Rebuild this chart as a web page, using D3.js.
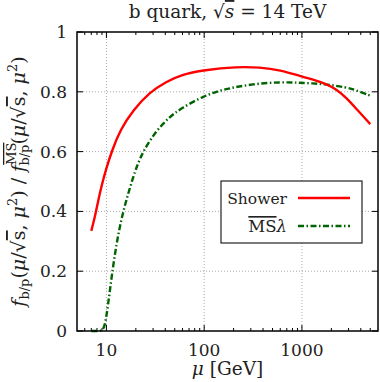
<!DOCTYPE html>
<html>
<head>
<meta charset="utf-8">
<script src="https://cdn.jsdelivr.net/npm/d3@7"></script>
<style>
  body { margin: 0; background: #fff; }
  svg text { font-family: "DejaVu Serif", serif; fill: #222; }
</style>
</head>
<body>
<div id="chart"></div>
<script>
// data
const showerMu = [7, 7.64, 8.26, 8.93, 10, 11.3, 13.8, 18.8, 27.9, 41.3, 56.5, 100, 215, 372, 596, 1000, 1400, 1718, 2200, 2860, 3600, 5000];
const showerVal = [0.335, 0.382, 0.438, 0.487, 0.545, 0.60, 0.672, 0.739, 0.80, 0.834, 0.856, 0.873, 0.884, 0.882, 0.873, 0.851, 0.838, 0.828, 0.811, 0.780, 0.743, 0.692];

const msbarMu = [7, 8, 9, 9.66, 10.45, 11.3, 12.7, 14.7, 18.8, 20.4, 23.8, 32.7, 44.7, 56.5, 100, 170, 316, 596, 1000, 1718, 2860, 3600, 5000];
const msbarVal = [-0.3, -0.12, -0.03, 0.015, 0.093, 0.182, 0.295, 0.399, 0.516, 0.549, 0.603, 0.672, 0.717, 0.742, 0.788, 0.811, 0.826, 0.833, 0.830, 0.826, 0.815, 0.805, 0.787];

const xMajor = [10, 100, 1000];
const xMinor = [6, 7, 8, 9, 20, 30, 40, 50, 60, 70, 80, 90, 200, 300, 400, 500, 600, 700, 800, 900, 2000, 3000, 4000, 5000];
const yTicks = [0, 0.2, 0.4, 0.6, 0.8, 1];

const width = 380;
const height = 382;
const margin = { top: 32, right: 2, bottom: 51, left: 77 };

const svg = d3.select('#chart')
  .append('svg')
  .attr('width', width)
  .attr('height', height);

const x = d3.scaleLog()
  .domain([5, 6000])
  .range([margin.left, width - margin.right]);

const y = d3.scaleLinear()
  .domain([0, 1])
  .range([height - margin.bottom, margin.top])
  .clamp(true);

const x0 = x.range()[0], x1 = x.range()[1];
const y0 = y.range()[0], y1 = y.range()[1];

// grid
const grid = svg.append('g')
  .attr('stroke', '#aaa')
  .attr('stroke-width', 1)
  .attr('stroke-dasharray', '1,2');

grid.selectAll('line.gx')
  .data(xMajor)
  .enter()
  .append('line')
  .attr('x1', d => x(d)).attr('x2', d => x(d))
  .attr('y1', y0).attr('y2', y1);

grid.selectAll('line.gy')
  .data(yTicks.filter(d => d > 0 && d < 1))
  .enter()
  .append('line')
  .attr('x1', x0).attr('x2', x1)
  .attr('y1', d => y(d)).attr('y2', d => y(d));

// ticks, inward on all sides
const ticks = svg.append('g').attr('stroke', '#000').attr('stroke-width', 1);

ticks.selectAll('line.xM')
  .data(xMajor.concat(xMajor))
  .enter()
  .append('line')
  .attr('x1', d => x(d)).attr('x2', d => x(d))
  .attr('y1', (d, i) => i < 3 ? y0 : y1)
  .attr('y2', (d, i) => i < 3 ? y0 - 6 : y1 + 6);

ticks.selectAll('line.xm')
  .data(xMinor.concat(xMinor))
  .enter()
  .append('line')
  .attr('x1', d => x(d)).attr('x2', d => x(d))
  .attr('y1', (d, i) => i < xMinor.length ? y0 : y1)
  .attr('y2', (d, i) => i < xMinor.length ? y0 - 3 : y1 + 3);

ticks.selectAll('line.y')
  .data(yTicks.concat(yTicks))
  .enter()
  .append('line')
  .attr('y1', d => y(d)).attr('y2', d => y(d))
  .attr('x1', (d, i) => i < yTicks.length ? x0 : x1)
  .attr('x2', (d, i) => i < yTicks.length ? x0 + 6 : x1 - 6);

// tick labels
svg.append('g')
  .selectAll('text')
  .data(xMajor)
  .enter()
  .append('text')
  .attr('x', d => x(d))
  .attr('y', 356)
  .attr('text-anchor', 'middle')
  .attr('font-size', 17)
  .text(d => d);

svg.append('g')
  .selectAll('text')
  .data(yTicks)
  .enter()
  .append('text')
  .attr('x', 67)
  .attr('y', d => y(d) + 6)
  .attr('text-anchor', 'end')
  .attr('font-size', 17)
  .text(d => d);

// curves
const line = d3.line()
  .x(d => x(d[0]))
  .y(d => y(d[1]))
  .curve(d3.curveBasis);

svg.append('path')
  .datum(msbarMu.map((m, i) => [m, msbarVal[i]]))
  .attr('fill', 'none')
  .attr('stroke', '#006400')
  .attr('stroke-width', 2.4)
  .attr('stroke-dasharray', '6,2.5,1.5,2.5')
  .attr('d', line);

svg.append('path')
  .datum(showerMu.map((m, i) => [m, showerVal[i]]))
  .attr('fill', 'none')
  .attr('stroke', '#ff0000')
  .attr('stroke-width', 2.4)
  .attr('d', line);

// frame
svg.append('rect')
  .attr('x', x0).attr('y', y1)
  .attr('width', x1 - x0).attr('height', y0 - y1)
  .attr('fill', 'none')
  .attr('stroke', '#000')
  .attr('stroke-width', 1.5);

// legend
const legend = svg.append('g');
legend.append('rect')
  .attr('x', 221).attr('y', 181)
  .attr('width', 141).attr('height', 62)
  .attr('fill', '#fff')
  .attr('stroke', '#222')
  .attr('stroke-width', 1.2);

legend.append('text')
  .attr('x', 287).attr('y', 204)
  .attr('text-anchor', 'end')
  .attr('font-size', 15.5)
  .text('Shower');
legend.append('line')
  .attr('x1', 298).attr('x2', 350)
  .attr('y1', 198).attr('y2', 198)
  .attr('stroke', '#ff0000').attr('stroke-width', 2.4);

const msText = legend.append('text')
  .attr('x', 287).attr('y', 232)
  .attr('text-anchor', 'end')
  .attr('font-size', 16.5);
msText.append('tspan').attr('text-decoration', 'overline').text('MS');
msText.append('tspan').attr('font-style', 'italic').text('λ');
legend.append('line')
  .attr('x1', 298).attr('x2', 350)
  .attr('y1', 226).attr('y2', 226)
  .attr('stroke', '#006400').attr('stroke-width', 2.4)
  .attr('stroke-dasharray', '6,2.5,1.5,2.5');

// title
const title = svg.append('text')
  .attr('x', (x0 + x1) / 2).attr('y', 18)
  .attr('text-anchor', 'middle')
  .attr('font-size', 18.5);
title.append('tspan').text('b quark, √');
title.append('tspan').attr('font-style', 'italic').attr('text-decoration', 'overline').text('s');
title.append('tspan').text(' = 14 TeV');

// x label
const xl = svg.append('text')
  .attr('x', (x0 + x1) / 2).attr('y', 375)
  .attr('text-anchor', 'middle')
  .attr('font-size', 18.5);
xl.append('tspan').attr('font-style', 'italic').text('μ');
xl.append('tspan').text(' [GeV]');

// y label
const yl = svg.append('text')
  .attr('transform', `translate(25,${(y0 + y1) / 2}) rotate(-90)`)
  .attr('text-anchor', 'middle')
  .attr('font-size', 19);
yl.append('tspan').attr('font-style', 'italic').text('f');
yl.append('tspan').attr('font-size', 13).attr('dy', 4).text('b/p');
yl.append('tspan').attr('dy', -4).text('(');
yl.append('tspan').attr('font-style', 'italic').text('μ');
yl.append('tspan').text('/√');
yl.append('tspan').attr('text-decoration', 'overline').text('s');
yl.append('tspan').text(', ');
yl.append('tspan').attr('font-style', 'italic').text('μ');
yl.append('tspan').attr('font-size', 13).attr('dy', -8).text('2');
yl.append('tspan').attr('dy', 8).text(') / ');
yl.append('tspan').attr('font-style', 'italic').text('f');
yl.append('tspan').attr('font-size', 13).attr('dy', -9).attr('text-decoration', 'overline').text('MS');
yl.append('tspan').attr('font-size', 13).attr('dx', -23).attr('dy', 13).text('b/p');
yl.append('tspan').attr('dy', -4).text('(');
yl.append('tspan').attr('font-style', 'italic').text('μ');
yl.append('tspan').text('/√');
yl.append('tspan').attr('text-decoration', 'overline').text('s');
yl.append('tspan').text(', ');
yl.append('tspan').attr('font-style', 'italic').text('μ');
yl.append('tspan').attr('font-size', 13).attr('dy', -8).text('2');
yl.append('tspan').attr('dy', 8).text(')');
</script>
</body>
</html>
